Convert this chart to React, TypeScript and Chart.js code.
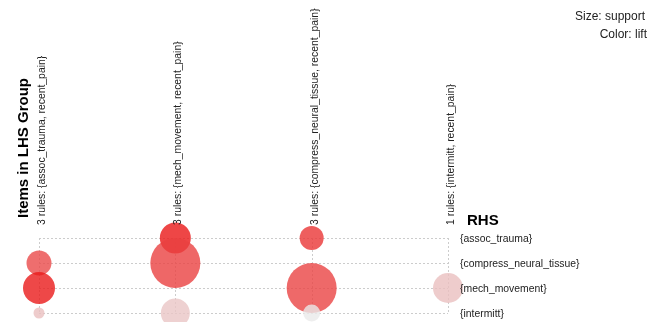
import React, { useEffect, useRef } from "react";
import { Chart, registerables } from "chart.js";

Chart.register(...registerables);

const lhsGroups = [
  "3 rules: {assoc_trauma, recent_pain}",
  "3 rules: {mech_movement, recent_pain}",
  "3 rules: {compress_neural_tissue, recent_pain}",
  "1 rules: {intermitt, recent_pain}",
];
const rhsItems = ["{assoc_trauma}", "{compress_neural_tissue}", "{mech_movement}", "{intermitt}"];

// one entry per rule
const ruleLhs = [0, 0, 0, 1, 1, 1, 2, 2, 2, 3];
const ruleRhs = [1, 2, 3, 0, 1, 3, 0, 2, 3, 2];
const ruleSupport = [0.0244, 0.04, 0.0047, 0.0375, 0.0977, 0.0328, 0.0225, 0.0977, 0.0113, 0.0352];
const ruleLift = [2.5, 2.94, 1.4, 2.96, 2.58, 1.35, 2.68, 2.56, 1.0, 1.4];

const LIFT_MIN = 1.0;
const LIFT_MAX = 3.0;

function liftColor(l: number) {
  const t = Math.max(0, Math.min(1, (l - LIFT_MIN) / (LIFT_MAX - LIFT_MIN)));
  const g = Math.round(234 - t * 214);
  return `rgba(234, ${g}, ${g}, 0.8)`;
}
function supportRadius(s: number) {
  return 80 * Math.sqrt(s);
}

const FONT = "'Liberation Sans', Arial, sans-serif";

const decorPlugin = {
  id: "decor",
  beforeDatasetsDraw(chart: any) {
    const { ctx, chartArea, scales } = chart;
    const xs = scales.x;
    const ys = scales.y;
    ctx.save();
    ctx.strokeStyle = "#cccccc";
    ctx.lineWidth = 1;
    ctx.setLineDash([2, 2]);
    for (let i = 0; i < lhsGroups.length; i++) {
      const x = Math.round(xs.getPixelForValue(i)) + 0.5;
      ctx.beginPath();
      ctx.moveTo(x, chartArea.top);
      ctx.lineTo(x, chartArea.bottom);
      ctx.stroke();
    }
    for (let j = 0; j < rhsItems.length; j++) {
      const y = Math.round(ys.getPixelForValue(j)) + 0.5;
      ctx.beginPath();
      ctx.moveTo(chartArea.left, y);
      ctx.lineTo(chartArea.right, y);
      ctx.stroke();
    }
    ctx.restore();
  },
  afterDraw(chart: any) {
    const { ctx, chartArea, scales } = chart;
    const xs = scales.x;
    const ys = scales.y;
    ctx.save();
    ctx.fillStyle = "#222222";
    // column labels
    ctx.font = `10.4px ${FONT}`;
    ctx.textAlign = "left";
    ctx.textBaseline = "middle";
    for (let i = 0; i < lhsGroups.length; i++) {
      const x = xs.getPixelForValue(i) + 3;
      ctx.save();
      ctx.translate(x, chartArea.top - 13);
      ctx.rotate(-Math.PI / 2);
      ctx.fillText(lhsGroups[i], 0, 0);
      ctx.restore();
    }
    // row labels
    ctx.font = `10.4px ${FONT}`;
    for (let j = 0; j < rhsItems.length; j++) {
      const y = ys.getPixelForValue(j);
      ctx.fillText(rhsItems[j], chartArea.right + 12, y + 1);
    }
    // titles
    ctx.fillStyle = "#000000";
    ctx.font = `bold 15px ${FONT}`;
    ctx.textBaseline = "alphabetic";
    ctx.fillText("RHS", chartArea.right + 19, chartArea.top - 13);
    ctx.save();
    ctx.translate(28, chartArea.top - 20);
    ctx.rotate(-Math.PI / 2);
    ctx.fillText("Items in LHS Group", 0, 0);
    ctx.restore();
    ctx.fillStyle = "#222222";
    ctx.font = `12px ${FONT}`;
    ctx.textAlign = "right";
    ctx.textBaseline = "middle";
    ctx.fillText("Size: support", 645, 17);
    ctx.fillText("Color: lift", 647, 35);
    ctx.restore();
  },
};

export default function App() {
  const ref = useRef<HTMLCanvasElement | null>(null);
  useEffect(() => {
    if (!ref.current) return;
    const data = ruleLhs.map((l, k) => ({ x: l, y: ruleRhs[k], r: supportRadius(ruleSupport[k]) }));
    const chart = new Chart(ref.current, {
      type: "bubble",
      data: {
        datasets: [
          {
            data,
            backgroundColor: ruleLift.map(liftColor),
            borderWidth: 0,
            hoverBorderWidth: 0,
            clip: false as any,
          },
        ],
      },
      options: {
        animation: false,
        responsive: false,
        events: [],
        layout: { padding: { left: 39, right: 216, top: 238, bottom: 26 } },
        plugins: { legend: { display: false }, tooltip: { enabled: false } },
        scales: {
          x: { type: "linear", min: 0, max: lhsGroups.length - 1, display: false },
          y: { type: "linear", min: 0, max: rhsItems.length - 1, reverse: true, display: false },
        },
      },
      plugins: [decorPlugin],
    });
    return () => chart.destroy();
  }, []);
  return (
    <div style={{ position: "absolute", left: 0, top: 0, width: 664, height: 322, overflow: "hidden", background: "#fff" }}>
      <canvas ref={ref} width={664} height={339} style={{ display: "block" }} />
    </div>
  );
}
